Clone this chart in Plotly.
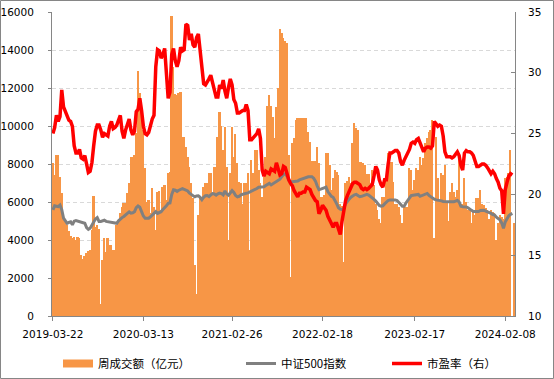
import pandas as pd
import plotly.graph_objects as go

# weekly category labels (Fridays; Spring-Festival week ends on Thursday 2024-02-08)
dates = [d.strftime("%Y-%m-%d") for d in pd.date_range("2019-03-22", periods=261, freq="7D")]
dates = ["2024-02-08" if d == "2024-02-09" else d for d in dates]
tick_labels = ["2019-03-22", "2020-03-13", "2021-02-26", "2022-02-18", "2023-02-17", "2024-02-08"]

# 周成交额（亿元）
turnover = [
    8030, 7420, 8470, 8470, 7330, 6450, 5310, 5050, 4780, 4480,
    4200, 4080, 4170, 3990, 4170, 4130, 3200, 3020, 3150, 3330,
    3430, 3460, 4520, 6300, 4700, 4800, 4600, 650, 2940, 4080,
    3380, 4080, 3730, 3730, 3460, 3460, 4780, 5050, 5400, 5750,
    5930, 5930, 6500, 7000, 8380, 8390, 8470, 9620, 12920, 11730,
    10850, 9800, 7770, 6000, 6100, 5400, 6720, 5750, 4520, 6540,
    6600, 5600, 6810, 6900, 6100, 7510, 7600, 15770, 13130, 11700,
    11650, 11730, 11800, 9440, 9400, 8900, 8380, 7860, 6980, 6200,
    2680, 1150, 5310, 6280, 6280, 6810, 6980, 7000, 7510, 7510,
    6450, 7860, 7860, 9440, 10760, 10000, 8740, 9970, 7860, 4000,
    7510, 9970, 8380, 9600, 8030, 7070, 6980, 5920, 6980, 6980,
    7510, 3460, 8210, 7510, 8740, 8740, 7680, 7000, 6280, 7330,
    8380, 11030, 11640, 11030, 10500, 9350, 11000, 12000, 15100, 14900,
    14630, 14450, 14360, 8470, 2060, 9090, 9350, 10320, 10410, 10410,
    10410, 10410, 10410, 10410, 9700, 9180, 8140, 8140, 8140, 8910,
    8030, 6280, 6280, 6370, 8560, 8560, 7950, 6630, 7240, 7680,
    7600, 7420, 5900, 5800, 2840, 6980, 7100, 7330, 6980, 9090,
    10140, 9880, 9790, 8120, 8100, 8030, 7950, 7500, 7500, 6980,
    7700, 6900, 5920, 5570, 5130, 4870, 6280, 6280, 7200, 8560,
    8120, 8120, 7070, 5920, 5920, 5750, 5300, 4870, 5750, 5750,
    5750, 7770, 7700, 6630, 7150, 7800, 7700, 8380, 7950, 8300,
    9090, 9350, 9700, 9790, 10300, 4100, 9440, 7240, 6010, 7510,
    7420, 7950, 6010, 5000, 6540, 6980, 6540, 6280, 6630, 8380,
    5920, 5920, 7240, 6010, 5570, 5570, 4870, 5570, 5310, 6190,
    6190, 6630, 5920, 5840, 5660, 5570, 5130, 5570, 5490, 5400,
    4000, 4870, 5310, 5220, 5130, 7240, 7330, 7510, 8740, 0,
    4870,
]

# 中证500指数
csi500 = [
    5580, 5800, 5780, 5760, 5840, 5600, 5150, 4990, 4880, 4930,
    4960, 4800, 4990, 5020, 4990, 4960, 4900, 4870, 4880, 4650,
    4560, 4620, 4790, 4950, 5100, 5180, 4980, 4980, 5030, 5040,
    4980, 4960, 4960, 4940, 4900, 4880, 4880, 5010, 5120, 5180,
    5240, 5300, 5400, 5480, 5410, 5430, 5490, 5700, 5790, 5720,
    5490, 5260, 5150, 5140, 5150, 5220, 5320, 5430, 5490, 5400,
    5430, 5490, 5600, 5690, 5800, 5930, 5950, 6400, 6640, 6620,
    6560, 6620, 6680, 6700, 6660, 6630, 6580, 6460, 6380, 6300,
    6270, 6320, 6330, 6250, 6120, 6250, 6330, 6340, 6280, 6370,
    6440, 6420, 6360, 6430, 6470, 6440, 6370, 6580, 6420, 6360,
    6500, 6600, 6500, 6340, 6270, 6300, 6380, 6420, 6420, 6460,
    6480, 6520, 6580, 6610, 6640, 6710, 6780, 6780, 6780, 6800,
    6870, 6920, 6980, 6900, 6960, 7010, 7070, 7120, 7200, 7330,
    7450, 7480, 7350, 7150, 7080, 7070, 7070, 7070, 7100, 7160,
    7200, 7240, 7280, 7320, 7330, 7330, 7330, 7250, 7100, 6850,
    6650, 6680, 6720, 6780, 6780, 6550, 6400, 6300, 6250, 6100,
    5900, 5700, 5620, 5600, 5680, 5900, 6050, 6150, 6250, 6340,
    6380, 6400, 6350, 6280, 6300, 6340, 6380, 6400, 6360, 6300,
    6200, 6140, 6050, 5950, 5820, 5780, 5800, 5900, 6000, 6080,
    6110, 6120, 6130, 6110, 6080, 6000, 5880, 5780, 5780, 5950,
    6100, 6200, 6340, 6360, 6380, 6420, 6400, 6300, 6340, 6400,
    6450, 6450, 6350, 6280, 6190, 6150, 6110, 6100, 6080, 6060,
    6030, 6010, 6010, 6010, 6010, 6010, 6010, 6050, 6080, 6000,
    5780, 5750, 5750, 5740, 5700, 5650, 5560, 5500, 5490, 5490,
    5500, 5550, 5580, 5570, 5520, 5490, 5450, 5400, 5340, 5310,
    5200, 5130, 5060, 4900, 4610, 4950, 5150, 5280, 5350, 5400,
    None,
]

# 市盈率（右）
pe = [
    25.0, 25.5, 26.5, 26.0, 26.4, 28.6, 27.2, 26.8, 26.4, 26.1,
    26.0, 25.6, 24.0, 23.4, 23.4, 23.7, 23.0, 22.9, 23.2, 22.5,
    21.8, 21.9, 22.6, 24.0, 25.2, 25.7, 25.7, 25.3, 24.7, 25.0,
    24.9, 24.8, 25.6, 26.0, 25.4, 25.5, 25.7, 26.2, 26.5, 25.2,
    24.6, 25.3, 25.8, 26.2, 25.3, 24.9, 25.2, 26.8, 27.0, 27.9,
    26.9, 25.6, 25.0, 24.9, 25.1, 25.8, 26.2, 26.5, 30.5, 31.9,
    31.8, 31.2, 31.5, 32.0, 29.5, 27.9, 28.4, 31.5, 32.0, 31.0,
    30.5, 31.0, 32.1, 31.8, 31.9, 34.0, 33.9, 32.7, 33.2, 32.3,
    32.1, 32.9, 33.2, 32.0, 30.5, 29.1, 29.0, 29.2, 29.5, 29.8,
    29.1, 28.5, 28.0, 28.0, 29.0, 28.7, 29.4, 28.5, 27.9, 28.8,
    29.5, 29.0, 27.8, 27.5, 26.7, 26.7, 26.8, 26.9, 26.9, 27.4,
    26.9, 24.5, 24.5, 24.7, 24.9, 25.0, 25.4, 24.6, 22.0, 21.5,
    21.9, 21.8, 21.7, 22.1, 22.0, 21.9, 22.6, 22.2, 21.6, 21.7,
    22.3, 22.2, 21.6, 21.2, 20.9, 20.7, 20.3, 20.0, 19.8, 20.1,
    20.1, 20.2, 20.2, 20.6, 20.5, 20.4, 20.0, 19.7, 19.5, 19.4,
    18.4, 18.7, 19.1, 18.9, 18.7, 18.2, 17.8, 17.6, 17.3, 17.6,
    17.6, 17.0, 16.7, 17.8, 18.9, 19.5, 19.9, 20.2, 20.6, 20.9,
    21.0, 21.0, 20.9, 20.8, 20.5, 20.4, 20.5, 20.4, 20.5, 20.7,
    20.8, 21.5, 22.3, 22.0, 21.2, 20.8, 20.6, 21.2, 21.2, 22.5,
    23.4, 23.4, 23.5, 23.6, 23.6, 23.4, 22.7, 22.4, 22.8, 23.1,
    23.4, 23.7, 24.2, 24.3, 24.2, 24.5, 24.6, 24.2, 23.7, 23.5,
    23.8, 23.9, 23.9, 23.8, 24.0, 26.0, 25.8, 25.6, 25.7, 25.6,
    24.8, 23.5, 23.1, 23.1, 23.1, 23.0, 23.1, 23.3, 23.5, 23.2,
    22.4, 22.0, 23.4, 23.6, 23.5, 23.5, 23.4, 23.2, 22.6, 22.3,
    22.3, 22.4, 22.5, 22.5, 22.4, 22.2, 21.9, 21.7, 21.9, 21.7,
    21.3, 21.0, 20.5, 20.3, 18.4, 20.4, 21.0, 21.5, 21.7, 21.6,
    None,
]

ORANGE = "#F79646"
GRAY = "#808080"
RED = "#FF0000"
AXIS = "#868686"
NUM_FONT = dict(family="DejaVu Sans", size=10.5, color="#000000")
CJK_FONT = dict(family="Noto Sans CJK SC", size=11.5, color="#000000")

fig = go.Figure()
fig.add_trace(go.Bar(x=dates, y=turnover, marker=dict(color=ORANGE, line=dict(width=0)),
                     name="周成交额（亿元）", showlegend=False))
# legend entry for bars (rectangular swatch)
fig.add_trace(go.Scatter(x=[None], y=[None], mode="lines", line=dict(color=ORANGE, width=8),
                         name="周成交额（亿元）", legend="legend"))
fig.add_trace(go.Scatter(x=dates, y=csi500, mode="lines", line=dict(color=GRAY, width=3),
                         name="中证500指数", legend="legend2"))
fig.add_trace(go.Scatter(x=dates, y=pe, mode="lines", line=dict(color=RED, width=3.5),
                         name="市盈率（右）", yaxis="y2", legend="legend3"))

W, H = 554, 379
ml, mr, mt, mb = 52, 39, 12, 63
pw, ph = W - ml - mr, H - mt - mb

def px_x(p):
    return (p - ml) / pw

def px_y(p):
    return (H - mb - p) / ph

leg_common = dict(orientation="h", yanchor="middle", xanchor="left", font=CJK_FONT,
                  bgcolor="rgba(0,0,0,0)", itemwidth=30, y=px_y(363.5))

fig.update_layout(
    width=W, height=H,
    margin=dict(l=ml, r=mr, t=mt, b=mb, autoexpand=False),
    paper_bgcolor="white", plot_bgcolor="white",
    bargap=0,
    xaxis=dict(type="category", range=[-0.5, len(dates) - 0.5],
               tickmode="array", tickvals=tick_labels, ticktext=tick_labels,
               ticks="outside", ticklen=4, tickcolor=AXIS, automargin=False,
               showline=True, linecolor=AXIS, linewidth=1, showgrid=False,
               tickfont=NUM_FONT, ticklabelstandoff=4),
    yaxis=dict(range=[0, 16000], tick0=0, dtick=2000, tickformat="d", showgrid=True,
               gridcolor="#D9D9D9", griddash="4px,3px", gridwidth=1, automargin=False,
               showline=True, linecolor=AXIS, linewidth=1, zeroline=False,
               ticks="outside", ticklen=3, tickcolor=AXIS,
               tickfont=NUM_FONT, ticklabelstandoff=12),
    yaxis2=dict(range=[10, 35], tick0=10, dtick=5, tickformat="d", overlaying="y", side="right",
                showgrid=False, showline=True, linecolor=AXIS, linewidth=1, zeroline=False,
                ticks="inside", ticklen=4, tickcolor=AXIS, automargin=False,
                tickfont=NUM_FONT, ticklabelstandoff=10),
    legend=dict(x=px_x(58), **leg_common),
    legend2=dict(x=px_x(241), **leg_common),
    legend3=dict(x=px_x(387), **leg_common),
    shapes=[dict(type="rect", xref="paper", yref="paper",
                 x0=px_x(0.5), x1=px_x(W - 0.5), y0=px_y(H - 0.5), y1=px_y(0.5),
                 line=dict(color=AXIS, width=1), fillcolor="rgba(0,0,0,0)", layer="below")],
)

fig.write_html("out.html", config={"displayModeBar": False},
               post_script="document.body.style.margin='0px';document.body.style.overflow='hidden';")
